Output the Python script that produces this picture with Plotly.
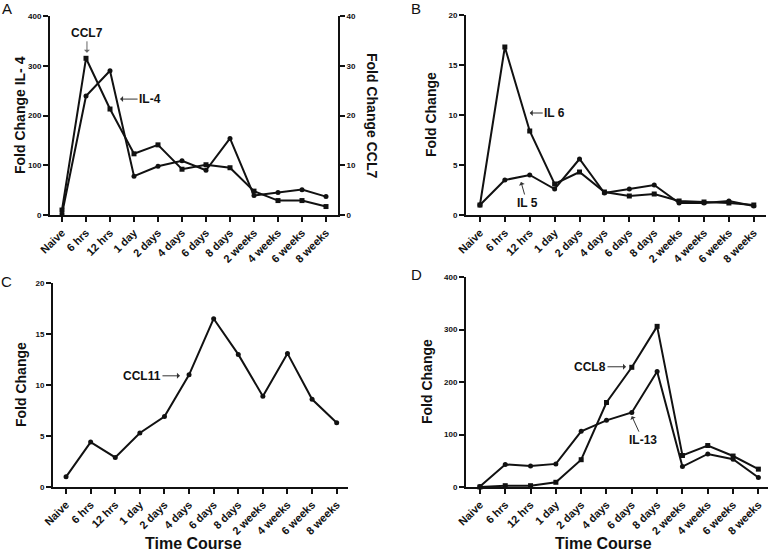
import plotly.graph_objects as go

# time points shared by every panel
times = ['Naive', '6 hrs', '12 hrs', '1 day', '2 days', '4 days', '6 days',
         '8 days', '2 weeks', '4 weeks', '6 weeks', '8 weeks']

# panel A: IL-4 on the left axis, CCL7 on the right axis
il4 = [2, 239, 290, 78, 98, 109, 90, 154, 39, 45, 51, 37]
ccl7 = [1.0, 31.5, 21.3, 12.3, 14.1, 9.2, 10.1, 9.5, 4.8, 2.9, 2.9, 1.7]

# panel B
il6 = [1.0, 16.8, 8.4, 3.1, 4.3, 2.3, 1.9, 2.1, 1.4, 1.3, 1.2, 1.0]
il5 = [1.0, 3.5, 4.0, 2.6, 5.6, 2.2, 2.6, 3.0, 1.2, 1.2, 1.4, 0.9]

# panel C
ccl11 = [1.0, 4.4, 2.9, 5.3, 6.9, 11.0, 16.5, 13.0, 8.9, 13.1, 8.6, 6.3]

# panel D
ccl8 = [0, 2.5, 2.5, 9, 52, 161, 228, 306, 60, 79, 59, 34]
il13 = [1, 43, 40, 44, 106, 127, 142, 220, 39, 63, 53, 18]

W, H = 772, 552
FONT = 'Liberation Sans'
INK = '#111111'


def px(v):
    return v / W


def py(v):
    return 1 - v / H


def line(x, y, xa, ya, sym):
    return go.Scatter(x=x, y=y, xaxis=xa, yaxis=ya, mode='lines+markers',
                      line=dict(color=INK, width=2),
                      marker=dict(symbol=sym, size=5, color=INK),
                      cliponaxis=False, showlegend=False)


fig = go.Figure()
fig.add_trace(line(times, il4, 'x', 'y', 'circle'))
fig.add_trace(line(times, ccl7, 'x', 'y5', 'square'))
fig.add_trace(line(times, il6, 'x2', 'y2', 'square'))
fig.add_trace(line(times, il5, 'x2', 'y2', 'circle'))
fig.add_trace(line(times, ccl11, 'x3', 'y3', 'circle'))
fig.add_trace(line(times, ccl8, 'x4', 'y4', 'square'))
fig.add_trace(line(times, il13, 'x4', 'y4', 'circle'))

xcommon = dict(type='category', showline=True, linecolor=INK, linewidth=2,
               ticks='outside', ticklen=5, tickwidth=1.5, tickcolor=INK,
               tickangle=-45, showgrid=False, zeroline=False, automargin=False,
               tickfont=dict(family=FONT, size=11, color=INK, weight='bold'))
ycommon = dict(showline=True, linecolor=INK, linewidth=2, ticks='outside',
               ticklen=5, tickwidth=1.5, tickcolor=INK, showgrid=False,
               zeroline=False, automargin=False,
               tickfont=dict(family=FONT, size=8, color=INK, weight='bold'))

fig.update_layout(
    width=W, height=H, margin=dict(l=0, r=0, t=0, b=0),
    paper_bgcolor='white', plot_bgcolor='white',
    xaxis=dict(xcommon, domain=[px(50), px(338)], range=[-0.5, 11.5], anchor='y'),
    yaxis=dict(ycommon, domain=[py(215), py(16)], range=[0, 400], dtick=100, anchor='x'),
    yaxis5=dict(ycommon, overlaying='y', side='right', anchor='x',
                range=[0, 40], dtick=10),
    xaxis2=dict(xcommon, domain=[px(466), px(766)], range=[-0.56, 11.49], anchor='y2'),
    yaxis2=dict(ycommon, domain=[py(215), py(15)], range=[0, 20], dtick=5, anchor='x2'),
    xaxis3=dict(xcommon, domain=[px(53), px(348)], range=[-0.53, 11.46], anchor='y3'),
    yaxis3=dict(ycommon, domain=[py(487), py(283)], range=[0, 20], dtick=5, anchor='x3'),
    xaxis4=dict(xcommon, domain=[px(466), px(768)], range=[-0.55, 11.38], anchor='y4'),
    yaxis4=dict(ycommon, domain=[py(487), py(277)], range=[0, 400], dtick=100, anchor='x4'),
)

ann = []


def text(x, y, s, size, angle=0, bold=True):
    ann.append(dict(xref='paper', yref='paper', x=px(x), y=py(y), text=s,
                    showarrow=False, xanchor='center', yanchor='middle',
                    textangle=angle,
                    font=dict(family=FONT, size=size, color=INK,
                              weight='bold' if bold else 'normal')))


# panel letters
text(7, 9, 'A', 15, bold=False)
text(416, 9, 'B', 15, bold=False)
text(7, 281, 'C', 15, bold=False)
text(416, 274, 'D', 15, bold=False)

# axis titles
text(20, 115, 'Fold Change IL- 4', 14, -90)
text(372, 115, 'Fold Change CCL7', 14, 90)
text(431, 115, 'Fold Change', 14, -90)
text(21, 385, 'Fold Change', 14, -90)
text(427, 382, 'Fold Change', 14, -90)
text(193, 543, 'Time Course', 16)
text(603, 543, 'Time Course', 16)


def label(xa, ya, x, y, s, ax, ay, color='#333333'):
    ann.append(dict(xref=xa, yref=ya, x=x, y=y, text=s, showarrow=True,
                    ax=ax, ay=ay, arrowhead=1, arrowsize=1, arrowwidth=1,
                    arrowcolor=color, standoff=0,
                    font=dict(family=FONT, size=12, color=INK, weight='bold')))


label('x', 'y', 1.04, 326, 'CCL7', 0, -20, '#666666')
label('x', 'y', 2.42, 233, 'IL-4', 30, 0)
label('x2', 'y2', 2.0, 10.2, 'IL 6', 25, 0)
label('x2', 'y2', 1.65, 3.3, 'IL 5', 6, 21)
label('x3', 'y3', 4.63, 10.9, 'CCL11', -38, 0)
label('x4', 'y4', 5.77, 229, 'CCL8', -36, 0)
label('x4', 'y4', 6.0, 135, 'IL-13', 11, 24)

fig.update_layout(annotations=ann)
# the page body has an 8px default margin; drop it so the figure fills the window
fig.write_html('out.html', config={'displayModeBar': False},
               post_script="document.body.style.margin='0';")
